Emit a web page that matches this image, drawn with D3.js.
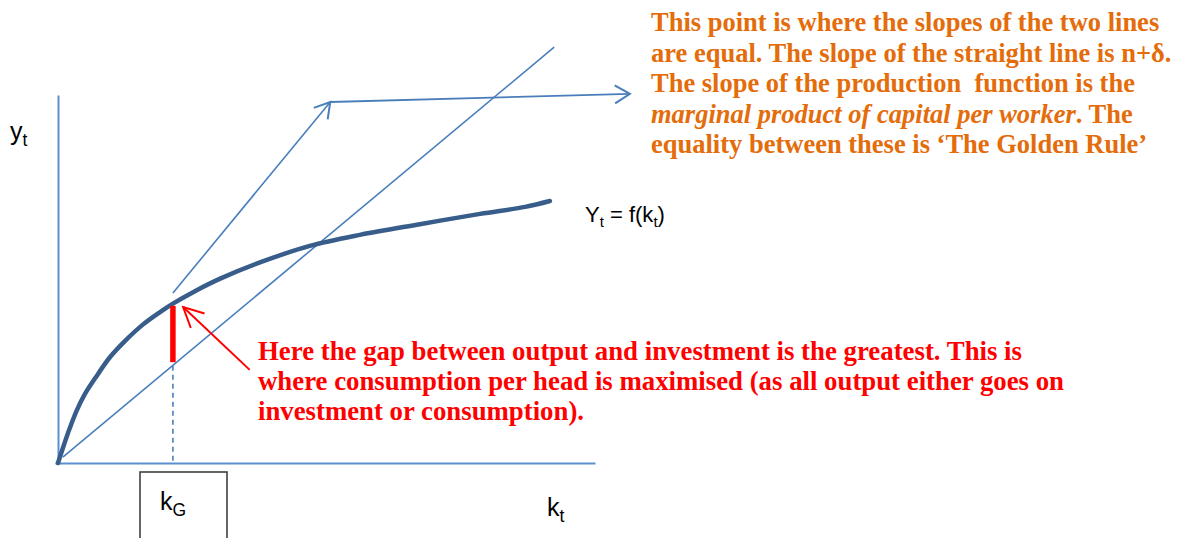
<!DOCTYPE html>
<html>
<head>
<meta charset="utf-8">
<script src="https://cdn.jsdelivr.net/npm/d3@7"></script>
<style>
  html, body { margin: 0; padding: 0; background: #fff; }
  svg { display: block; }
</style>
</head>
<body>
<div id="chart"></div>
<script>
// production function y = f(k)
const curveK = [0, 0.11, 0.22, 0.35, 0.50, 0.69, 0.97, 1.25, 1.58, 1.90, 2.14, 2.55, 3.02, 3.76, 4.69, 5.62, 6.74, 7.86, 8.70, 9.16];
const curveY = [0, 0.49, 0.95, 1.43, 1.87, 2.30, 2.88, 3.32, 3.76, 4.10, 4.33, 4.67, 5.01, 5.45, 5.90, 6.20, 6.49, 6.77, 6.96, 7.12];

// (n+delta)k straight line
const lineK = [0.09, 9.24];
const lineY = [0.16, 11.30];

// tangent arrow and the pointer to the note
const tangentK = [2.14, 5.07];
const tangentY = [4.62, 9.81];
const pointerK = [5.07, 10.65];
const pointerY = [9.81, 10.03];

// golden rule capital
const kGold = 2.14;
const gapY = [4.27, 2.74];
const dashY = [2.64, 0];

// red arrow: from note back to the gap
const redArrowK = [3.57, 2.33];
const redArrowY = [2.53, 4.24];

const orangeLines = [
  [['This point is where the slopes of the two lines', false]],
  [['are equal. The slope of the straight line is n+\u03b4.', false]],
  [['The slope of the production\u00a0 function is the', false]],
  [['marginal product of capital per worker', true], ['. The', false]],
  [['equality between these is \u2018The Golden Rule\u2019', false]]
];
const redLines = [
  'Here the gap between output and investment is the greatest. This is',
  'where consumption per head is maximised (as all output either goes on',
  'investment or consumption).'
];
const redLineEnds = [1022, 1064, 584];

const W = 1177, H = 538;
const svg = d3.select('#chart').append('svg')
    .attr('width', W)
    .attr('height', H);

const x = d3.scaleLinear().domain([0, 10]).range([58, 595]);
const y = d3.scaleLinear().domain([0, 10]).range([463, 95]);

const defs = svg.append('defs');
function arrowMarker(id, color, len, half) {
    defs.append('marker')
        .attr('id', id)
        .attr('markerUnits', 'userSpaceOnUse')
        .attr('viewBox', `${-len - 2} ${-half - 2} ${len + 4} ${2 * half + 4}`)
        .attr('refX', 0).attr('refY', 0)
        .attr('markerWidth', len + 4)
        .attr('markerHeight', 2 * half + 4)
        .attr('orient', 'auto')
        .append('path')
        .attr('d', `M${-len},${-half}L0,0L${-len},${half}`)
        .attr('fill', 'none')
        .attr('stroke', color)
        .attr('stroke-width', 2);
}
arrowMarker('arrBlue', '#4a7ebb', 15, 9);
arrowMarker('arrRed', '#ff0000', 20, 10);

const line = d3.line().x(d => x(d[0])).y(d => y(d[1]));

// axes
svg.append('g')
    .attr('transform', `translate(0, ${y(0)})`)
    .call(d3.axisBottom(d3.scaleLinear().domain([0, 10]).range([55, 595])).tickValues([]).tickSizeOuter(0))
    .select('.domain')
    .attr('stroke', '#5b8fd0')
    .attr('stroke-width', 2);

svg.append('g')
    .attr('transform', `translate(${x(0)}, 0)`)
    .call(d3.axisLeft(y).tickValues([]).tickSizeOuter(0))
    .select('.domain')
    .attr('stroke', '#5b8fd0')
    .attr('stroke-width', 2);

// straight line
svg.append('path')
    .datum(d3.zip(lineK, lineY))
    .attr('d', line)
    .attr('fill', 'none')
    .attr('stroke', '#4a7ebb')
    .attr('stroke-width', 1.6);

// dashed drop line
svg.append('path')
    .datum(dashY.map(v => [kGold, v]))
    .attr('d', line)
    .attr('fill', 'none')
    .attr('stroke', '#4a7ebb')
    .attr('stroke-width', 1.6)
    .attr('stroke-dasharray', '5,4');

// tangent arrow
svg.append('path')
    .datum(d3.zip(tangentK, tangentY))
    .attr('d', line)
    .attr('fill', 'none')
    .attr('stroke', '#4a7ebb')
    .attr('stroke-width', 1.6)
    .attr('marker-end', 'url(#arrBlue)');

svg.append('path')
    .datum(d3.zip(pointerK, pointerY))
    .attr('d', line)
    .attr('fill', 'none')
    .attr('stroke', '#4a7ebb')
    .attr('stroke-width', 1.8)
    .attr('marker-end', 'url(#arrBlue)');

// production function
const curveLine = d3.line()
    .x(d => x(d[0]))
    .y(d => y(d[1]))
    .curve(d3.curveCatmullRom.alpha(0.5));
svg.append('path')
    .datum(d3.zip(curveK, curveY))
    .attr('d', curveLine)
    .attr('fill', 'none')
    .attr('stroke', '#385d8a')
    .attr('stroke-width', 4.5)
    .attr('stroke-linecap', 'round');

// gap bar
svg.append('path')
    .datum(gapY.map(v => [kGold, v]))
    .attr('d', line)
    .attr('stroke', '#ff0000')
    .attr('stroke-width', 5.5);

// red arrow
svg.append('path')
    .datum(d3.zip(redArrowK, redArrowY))
    .attr('d', line)
    .attr('fill', 'none')
    .attr('stroke', '#ff0000')
    .attr('stroke-width', 2)
    .attr('marker-end', 'url(#arrRed)');

// kG box
svg.append('rect')
    .attr('x', 140).attr('y', 472)
    .attr('width', 87).attr('height', 90)
    .attr('fill', 'none')
    .attr('stroke', '#404040')
    .attr('stroke-width', 1.6);

const sans = '"Liberation Sans", Arial, sans-serif';

function subLabel(px, py, main, sub, size) {
    const t = svg.append('text')
        .attr('x', px).attr('y', py)
        .style('font-family', sans)
        .style('font-size', size + 'px')
        .style('fill', '#000');
    t.append('tspan').text(main);
    t.append('tspan').attr('dy', size * 0.22).style('font-size', (size * 0.7) + 'px').text(sub);
    return t;
}
subLabel(10, 140, 'y', 't', 25);
subLabel(547, 516, 'k', 't', 25);
subLabel(160, 510, 'k', 'G', 25);

// Yt = f(kt)
const fl = svg.append('text')
    .attr('x', 585).attr('y', 222)
    .style('font-family', sans)
    .style('font-size', '22px');
fl.append('tspan').text('Y');
fl.append('tspan').attr('dy', 5).style('font-size', '15px').text('t');
fl.append('tspan').attr('dy', -5).text(' = f(k');
fl.append('tspan').attr('dy', 5).style('font-size', '15px').text('t');
fl.append('tspan').attr('dy', -5).text(')');

// orange note
orangeLines.forEach((parts, i) => {
    const t = svg.append('text')
        .attr('x', 651)
        .attr('y', 31 + i * 30.6)
        .style('font-family', '"Liberation Serif", "Times New Roman", serif')
        .style('font-weight', 'bold')
        .style('font-size', '26.5px')
        .style('fill', '#e46c0a');
    parts.forEach(([s, it]) => {
        t.append('tspan').style('font-style', it ? 'italic' : 'normal').text(s);
    });
});

// red note
redLines.forEach((s, i) => {
    svg.append('text')
        .attr('x', 258)
        .attr('y', 360 + i * 30)
        .attr('textLength', redLineEnds[i] - 258)
        .attr('lengthAdjust', 'spacingAndGlyphs')
        .style('font-family', '"Liberation Serif", "Times New Roman", serif')
        .style('font-weight', 'bold')
        .style('font-size', '28px')
        .style('fill', '#ff0000')
        .text(s);
});
</script>
</body>
</html>
